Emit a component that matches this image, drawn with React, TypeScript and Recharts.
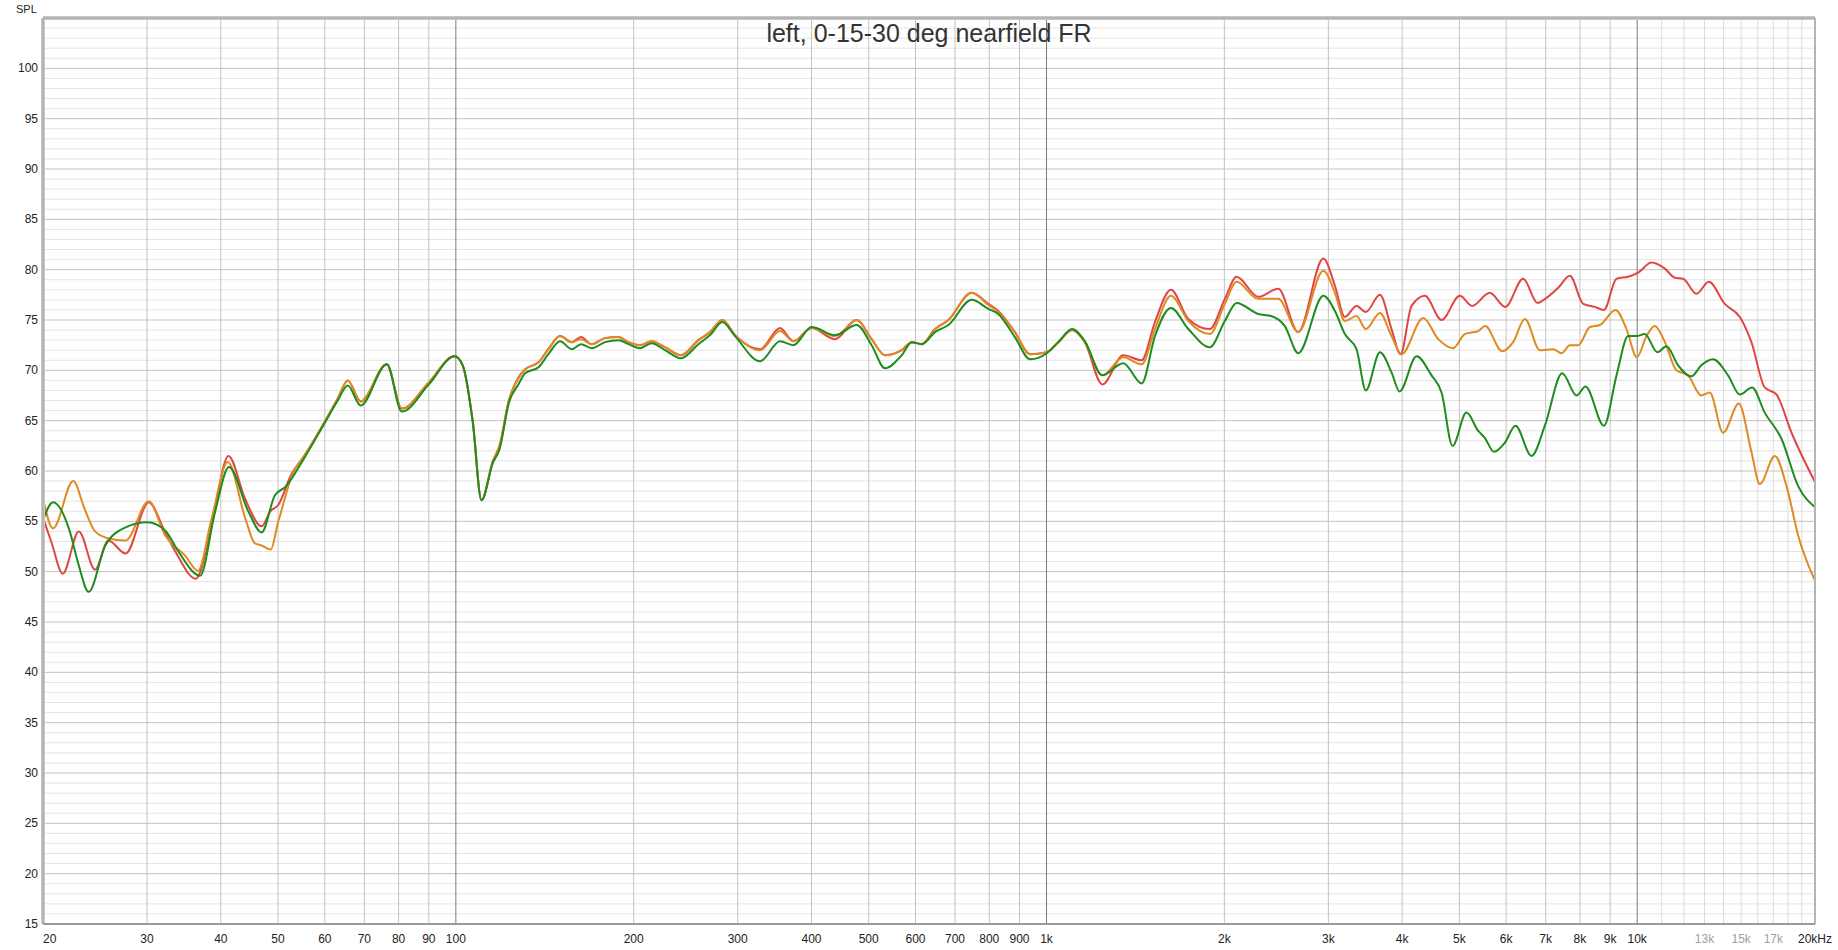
import React from 'react';
import { LineChart, Line, XAxis, YAxis, ReferenceLine } from 'recharts';

const FONT = '"Liberation Sans", Arial, Helvetica, sans-serif';

const title = 'left, 0-15-30 deg nearfield FR';
const yTitle = 'SPL';

const freqTicks = [20, 30, 40, 50, 60, 70, 80, 90, 100, 200, 300, 400, 500, 600, 700, 800, 900, 1000,
  2000, 3000, 4000, 5000, 6000, 7000, 8000, 9000, 10000, 13000, 15000, 17000, 20000];
const freqLabels = ['20', '30', '40', '50', '60', '70', '80', '90', '100', '200', '300', '400', '500', '600',
  '700', '800', '900', '1k', '2k', '3k', '4k', '5k', '6k', '7k', '8k', '9k', '10k', '13k', '15k', '17k', '20kHz'];
const faintFreqs = [13000, 15000, 17000];
const splTicks = [15, 20, 25, 30, 35, 40, 45, 50, 55, 60, 65, 70, 75, 80, 85, 90, 95, 100];

// grid
const decadeLines = [100, 1000, 10000];
const freqLines = [30, 40, 50, 60, 70, 80, 90, 200, 300, 400, 500, 600, 700, 800, 900,
  2000, 3000, 4000, 5000, 6000, 7000, 8000, 9000];
const fineFreqLines = [11000, 12000, 13000, 14000, 15000, 16000, 17000, 18000, 19000];
const minorDb = Array.from({ length: 89 }, (_, i) => 16 + i).filter((v) => v % 5 !== 0);

// 0 deg
const red: [number, number][] = [
  [20, 55.4], [20.7, 52.8], [21.6, 49.8], [23.0, 54.0], [24.5, 50.2], [25.8, 53.1], [27.6, 51.8],
  [30.2, 56.9], [32.2, 53.9], [33.5, 52.0], [36.3, 49.3], [38.6, 54.6], [41.2, 61.5], [44.0, 57.2],
  [46.9, 54.5], [48.5, 56.0], [50.0, 56.6], [52.7, 59.7], [55.4, 61.5], [60, 64.9], [63.1, 67.2],
  [65.6, 69.0], [69.0, 66.9], [76.4, 70.6], [81.0, 66.2], [90, 68.8], [99.5, 71.4], [102.7, 70.5],
  [106.8, 64.9], [110.5, 57.1], [115.5, 60.9], [118.6, 62.4], [123, 67.0], [127.6, 69.3], [131, 70.1],
  [138, 70.8], [143.4, 72.1], [150.1, 73.4], [157.1, 72.8], [162.9, 73.3], [169.8, 72.6], [178.9, 73.2],
  [188.4, 73.3], [195.9, 72.8], [205, 72.5], [214.6, 72.9], [226, 72.3], [240.6, 71.5], [257.4, 73.0],
  [269.4, 73.8], [282.6, 75.0], [296.9, 73.5], [327.4, 72.1], [353.8, 74.2], [372.7, 72.9], [400.2, 74.2],
  [438.4, 73.1], [477, 75.0], [505.7, 73.1], [532.7, 71.5], [568.6, 72.0], [591.2, 72.8], [614.7, 72.6],
  [647.5, 74.1], [682, 75.0], [746.9, 77.7], [797, 76.6], [828.6, 75.9], [884, 73.8], [937.6, 71.6],
  [1001, 71.8], [1047, 72.8], [1105, 74.0], [1161, 72.8], [1243, 68.6], [1349, 71.5], [1449, 71.0],
  [1526, 74.8], [1624, 78.0], [1738, 75.1], [1890, 74.1], [2004, 77.1], [2098, 79.3], [2282, 77.3],
  [2468, 78.1], [2668, 73.8], [2942, 81.1], [3078, 78.4], [3200, 75.3], [3348, 76.4], [3472, 75.8],
  [3668, 77.5], [3838, 74.1], [3975, 71.6], [4150, 76.4], [4371, 77.4], [4664, 75.0], [5008, 77.4],
  [5254, 76.4], [5628, 77.7], [5980, 76.3], [6411, 79.1], [6781, 76.7], [7023, 77.2], [7350, 78.2],
  [7692, 79.4], [8102, 76.6], [8480, 76.3], [8783, 76.0], [9226, 79.1], [9654, 79.3], [10040, 79.7],
  [10570, 80.7], [11140, 80.1], [11580, 79.2], [11960, 79.1], [12600, 77.6], [13220, 78.8], [14070, 76.6],
  [14920, 75.3], [15610, 72.8], [16440, 68.3], [17210, 67.6], [18250, 63.8], [20000, 58.9],
];

// 15 deg
const orange: [number, number][] = [
  [20, 57.3], [20.8, 54.3], [22.5, 59.0], [23.5, 56.3], [24.5, 54.0], [25.8, 53.3], [27.6, 53.1],
  [30.2, 57.0], [32.2, 53.6], [34.8, 51.6], [36.6, 50.1], [38.6, 55.3], [41.1, 60.9], [44.0, 55.3],
  [45.7, 52.8], [46.9, 52.6], [48.6, 52.2], [50.0, 54.9], [50.8, 56.3], [52.7, 59.5], [55.4, 61.5],
  [60, 64.9], [63.1, 67.2], [65.6, 69.0], [69.0, 66.9], [76.4, 70.6], [81.0, 66.2], [90, 68.8],
  [99.5, 71.4], [102.7, 70.5], [106.8, 64.9], [110.5, 57.1], [115.5, 61.0], [118.6, 62.6], [123, 67.1],
  [127.6, 69.2], [131, 70.1], [138, 70.8], [143.4, 72.1], [150.1, 73.4], [157.1, 72.8], [162.9, 73.1],
  [169.8, 72.6], [178.9, 73.2], [188.4, 73.3], [195.9, 72.8], [205, 72.5], [214.6, 72.9], [226, 72.3],
  [240.6, 71.5], [257.4, 73.0], [269.4, 73.8], [282.6, 75.0], [296.9, 73.5], [327.4, 72.0], [353.8, 73.9],
  [372.7, 72.9], [400.2, 74.2], [438.4, 73.4], [477, 75.0], [505.7, 73.1], [532.7, 71.5], [568.6, 72.0],
  [591.2, 72.8], [614.7, 72.6], [647.5, 74.1], [682, 75.0], [746.9, 77.7], [797, 76.5], [828.6, 75.8],
  [884, 73.8], [937.6, 71.6], [1001, 71.8], [1047, 72.8], [1105, 74.0], [1161, 72.8], [1243, 69.5],
  [1349, 71.3], [1449, 70.6], [1526, 74.1], [1624, 77.4], [1738, 74.9], [1890, 73.6], [2004, 76.6],
  [2098, 78.8], [2282, 77.1], [2468, 77.1], [2668, 73.8], [2942, 79.9], [3078, 77.7], [3200, 74.9],
  [3348, 75.4], [3472, 74.1], [3668, 75.7], [3838, 73.4], [3990, 71.6], [4342, 75.2], [4604, 73.1],
  [4881, 72.2], [5106, 73.6], [5378, 73.9], [5530, 74.4], [5906, 71.9], [6166, 72.8], [6453, 75.1],
  [6843, 72.0], [7208, 72.1], [7446, 71.7], [7692, 72.5], [7946, 72.5], [8316, 74.3], [8647, 74.5],
  [9190, 76.0], [9592, 74.1], [9990, 71.3], [10370, 73.4], [10710, 74.4], [11140, 72.8], [11650, 70.0],
  [12190, 69.5], [12840, 67.5], [13270, 67.8], [13980, 63.8], [14860, 66.7], [15610, 61.9], [16130, 58.7],
  [17100, 61.5], [17900, 58.5], [18730, 53.6], [20000, 49.1],
];

// 30 deg
const green: [number, number][] = [
  [20, 55.1], [20.8, 56.9], [22.2, 54.0], [22.9, 51.0], [23.9, 48.0], [25.5, 52.6], [27.6, 54.4],
  [30.0, 54.9], [32.2, 54.1], [33.9, 52.0], [36.9, 49.6], [39.1, 55.9], [41.3, 60.4], [44.6, 55.9],
  [46.9, 53.9], [49.4, 57.6], [51.4, 58.4], [55.4, 61.3], [60, 64.8], [63.1, 67.0], [65.6, 68.5],
  [69.0, 66.5], [76.4, 70.6], [81.0, 65.9], [90, 68.6], [99.5, 71.4], [102.7, 70.5], [106.8, 64.9],
  [110.5, 57.1], [115.5, 60.8], [118.6, 62.2], [123, 66.8], [127.6, 68.6], [131, 69.7], [138, 70.3],
  [143.4, 71.6], [150.1, 72.9], [157.1, 72.1], [162.9, 72.6], [169.8, 72.2], [178.9, 72.8], [188.4, 73.0],
  [195.9, 72.6], [205, 72.2], [214.6, 72.7], [226, 72.0], [240.6, 71.2], [257.4, 72.6], [269.4, 73.5],
  [282.6, 74.8], [296.9, 73.4], [327.4, 70.9], [353.8, 72.9], [372.7, 72.5], [400.2, 74.3], [438.4, 73.5],
  [477, 74.5], [505.7, 72.5], [532.7, 70.2], [568.6, 71.5], [591.2, 72.8], [614.7, 72.6], [647.5, 73.8],
  [682, 74.5], [746.9, 77.0], [797, 76.1], [828.6, 75.6], [884, 73.3], [937.6, 71.1], [1001, 71.7],
  [1047, 72.8], [1105, 74.1], [1161, 72.9], [1243, 69.5], [1349, 70.7], [1449, 68.7], [1526, 73.4],
  [1624, 76.2], [1738, 74.1], [1890, 72.3], [2004, 74.9], [2098, 76.7], [2282, 75.6], [2400, 75.4],
  [2532, 74.4], [2668, 71.7], [2942, 77.4], [3078, 75.9], [3200, 73.6], [3348, 72.1], [3472, 68.0],
  [3668, 71.8], [3838, 69.8], [3960, 67.9], [4231, 71.4], [4486, 69.5], [4664, 67.8], [4868, 62.5],
  [5139, 65.8], [5378, 64.0], [5520, 63.3], [5724, 61.9], [5968, 62.8], [6222, 64.5], [6624, 61.5],
  [6978, 64.5], [7465, 69.7], [7894, 67.5], [8176, 68.4], [8783, 64.5], [9226, 69.5], [9654, 73.4],
  [9972, 73.4], [10300, 73.6], [10820, 71.8], [11210, 72.4], [11730, 70.5], [12350, 69.4], [12840, 70.5],
  [13440, 71.1], [14250, 69.5], [14920, 67.6], [15650, 68.3], [16440, 65.8], [17550, 63.2], [18730, 58.5],
  [20000, 56.4],
];

const series = [
  { name: '0 deg', pts: red, color: '#e14646' },
  { name: '15 deg', pts: orange, color: '#df8a22' },
  { name: '30 deg', pts: green, color: '#1f8c1f' },
];

const toPts = (arr: [number, number][]) => arr.map(([f, db]) => ({ f, db }));

const XTick = (props: any) => {
  const v = props.payload.value;
  const label = freqLabels[freqTicks.indexOf(v)];
  return (
    <text x={props.x} y={943} textAnchor={v === 20 ? 'start' : 'middle'} fontSize={12}
      fontFamily={FONT} fill={faintFreqs.includes(v) ? '#a0a0a0' : '#222'}>
      {label}
    </text>
  );
};

const YTick = (props: any) => (
  <text x={38} y={props.y + 4} textAnchor="end" fontSize={12} fontFamily={FONT} fill="#222">
    {props.payload.value}
  </text>
);

export default function App() {
  return (
    <div style={{ position: 'absolute', left: 0, top: 0, width: 1838, height: 950, background: '#fff' }}>
      <LineChart width={1838} height={950} margin={{ top: 18, right: 23, bottom: 0, left: 0 }}>
        <XAxis dataKey="f" type="number" scale="log" domain={[20, 20000]} allowDataOverflow
          ticks={freqTicks} interval={0} height={26} axisLine={false} tickLine={false} tick={<XTick />} />
        <YAxis type="number" domain={[15, 105]} allowDataOverflow ticks={splTicks} interval={0}
          width={43} axisLine={false} tickLine={false} tick={<YTick />} />

        {minorDb.map((v) => (
          <ReferenceLine key={'m' + v} y={v} stroke="#e4e4e4" strokeWidth={1} />
        ))}
        {fineFreqLines.map((v) => (
          <ReferenceLine key={'ff' + v} x={v} stroke="#dcdcdc" strokeWidth={1} />
        ))}
        {splTicks.map((v) => (
          <ReferenceLine key={'M' + v} y={v} stroke="#c2c2c2" strokeWidth={1} />
        ))}
        {freqLines.map((v) => (
          <ReferenceLine key={'f' + v} x={v} stroke="#c2c2c2" strokeWidth={1} />
        ))}
        {decadeLines.map((v) => (
          <ReferenceLine key={'d' + v} x={v} stroke="#7a7a7a" strokeWidth={1} />
        ))}

        {series.map((s) => (
          <Line key={s.name} data={toPts(s.pts)} dataKey="db" name={s.name} type="monotone"
            stroke={s.color} strokeWidth={2} dot={false} activeDot={false} isAnimationActive={false} />
        ))}

        <ReferenceLine x={20} stroke="#c8c8c8" strokeWidth={4} />
        <ReferenceLine y={105} stroke="#c8c8c8" strokeWidth={4} />
        <ReferenceLine x={20000} stroke="#b4b4b4" strokeWidth={2} />
        <ReferenceLine y={15} stroke="#9a9a9a" strokeWidth={2} />
        <ReferenceLine x={20} stroke="#a0a0a0" strokeWidth={1} />
        <ReferenceLine y={105} stroke="#a0a0a0" strokeWidth={1} />
      </LineChart>
      <svg width={1838} height={950} style={{ position: 'absolute', left: 0, top: 0, pointerEvents: 'none' }}>
        <text x={929} y={42} textAnchor="middle" fontSize={25} fontFamily={FONT} fill="#333">{title}</text>
        <text x={16} y={13} fontSize={11} fontFamily={FONT} fill="#222">{yTitle}</text>
      </svg>
    </div>
  );
}
